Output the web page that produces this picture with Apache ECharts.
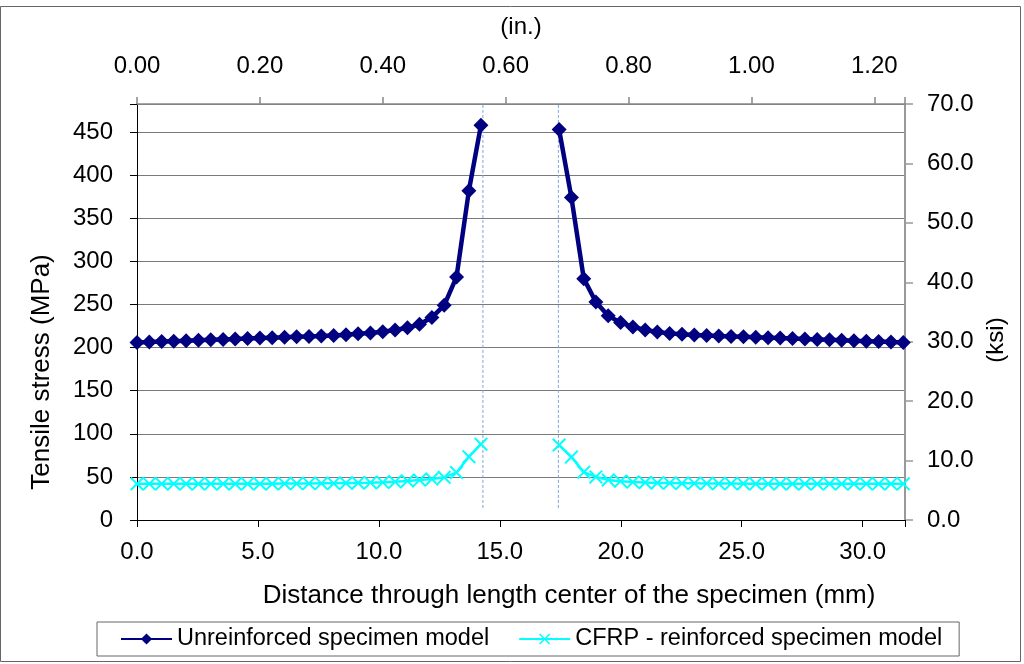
<!DOCTYPE html>
<html>
<head>
<meta charset="utf-8">
<script src="https://cdn.jsdelivr.net/npm/echarts@6/dist/echarts.min.js"></script>
<style>
html,body{margin:0;padding:0;background:#fff;}
#chart{width:1024px;height:664px;}
</style>
</head>
<body>
<div id="chart"></div>
<script>
// Distance (mm) of each computed point, left and right of the notch
const xLeft = [0.00,0.51,1.02,1.52,2.03,2.54,3.05,3.56,4.06,4.57,5.08,5.59,6.10,6.60,7.11,7.62,8.13,8.64,9.14,9.65,10.16,10.67,11.18,11.68,12.19,12.70,13.21,13.72,14.22];
const xRight = [17.45,17.96,18.47,18.97,19.48,19.99,20.50,21.01,21.51,22.02,22.53,23.04,23.55,24.05,24.56,25.07,25.58,26.09,26.59,27.10,27.61,28.12,28.63,29.13,29.64,30.15,30.66,31.17,31.68];

// Unreinforced specimen model (MPa)
const unreinforcedLeft = [206,206.5,207,207.5,208,208.5,209,209.5,210,210.5,211,211.5,212,212.5,213,213.5,214,215,216,217,218.5,220.5,223,227,235,249,282,382,458];
const unreinforcedRight = [453,374,280,253,237,229,224,220.5,218,216.5,215.5,214.5,214,213.5,213,212.5,212,211.5,211,210.5,210,209.5,209,208.5,208,207.5,207,206.5,206];

// CFRP - reinforced specimen model (MPa)
const cfrpLeft = [42,42,42,42,42,42,42,42,42,42,42,42,42.2,42.3,42.4,42.5,42.6,42.8,43,43.3,43.7,44.3,45.3,46.3,47.5,49.5,55,73.5,88];
const cfrpRight = [87,73,55.5,50,46.5,45,44,43.5,43,42.8,42.6,42.5,42.4,42.3,42.2,42.1,42,42,42,42,42,42,42,42,42,42,42,42,42];

// Thin reference lines at the notch edges
const refLineX = [14.3, 17.42];
const refLineY = [14, 482.6];

// Axis ranges / ticks
const mmMax = 31.75, mmStep = 5;
const inMax = 1.25, inStep = 0.2;
const mpaMax = 482.6, mpaStep = 50;
const ksiMax = 70, ksiStep = 10;

const FONT = 'Liberation Sans, Arial, sans-serif';

function pairs(xs, ys){ return xs.map((x,i)=>[x, ys[i]]); }
const unreinforcedData = pairs(xLeft, unreinforcedLeft).concat([[15.9,'-']], pairs(xRight, unreinforcedRight));
const cfrpData = pairs(xLeft, cfrpLeft).concat([[15.9,'-']], pairs(xRight, cfrpRight));

const xMarker = 'path://M0,1 L1,0 L5,4 L9,0 L10,1 L6,5 L10,9 L9,10 L5,6 L1,10 L0,9 L4,5 Z';

function isMult(v, step){ const r = v/step; return Math.abs(r-Math.round(r)) < 1e-6; }

const chart = echarts.init(document.getElementById('chart'), null, {renderer:'canvas'});
const refSeries = refLineX.map((x,i)=>({
  type:'line', name:'ref'+i, xAxisIndex:0, yAxisIndex:0,
  data: refLineY.map(y=>[x,y]), symbol:'none', silent:true,
  lineStyle:{color:'#7aa7dc', width:1, type:[3,2]}, z:1
}));

chart.setOption({
  backgroundColor:'#ffffff',
  animation:false,
  textStyle:{fontFamily:FONT},
  graphic:[{type:'rect', shape:{x:0.5,y:6.5,width:1020,height:655}, style:{fill:'none', stroke:'#666', lineWidth:1}, silent:true, z:-1}],
  grid:{left:137, right:119, top:104, bottom:144, containLabel:false},
  legend:{
    data:['Unreinforced specimen model','CFRP - reinforced specimen model'],
    left:97, top:622, padding:[5,17,5,23],
    borderColor:'#666', borderWidth:1,
    itemWidth:51, itemHeight:14, itemGap:29,
    textStyle:{fontSize:23.5, color:'#000', fontFamily:FONT}
  },
  xAxis:[{
    type:'value', position:'bottom', min:0, max:mmMax, interval:mmStep,
    name:'Distance through length center of the specimen (mm)', nameLocation:'middle', nameGap:63,
    nameTextStyle:{fontSize:26, color:'#000', fontFamily:FONT, padding:[0,0,0,96]},
    axisLine:{onZero:false, lineStyle:{color:'#000', width:1}},
    axisTick:{show:true, length:7, inside:false, lineStyle:{color:'#000'}},
    axisLabel:{fontSize:24, color:'#000', margin:20, fontFamily:FONT,
      formatter:v=> isMult(v,mmStep) ? v.toFixed(1) : ''},
    splitLine:{show:false}
  },{
    type:'value', position:'top', min:0, max:inMax, interval:inStep,
    name:'(in.)', nameLocation:'middle', nameGap:65,
    nameTextStyle:{fontSize:24, color:'#000', fontFamily:FONT},
    axisLine:{onZero:false, lineStyle:{color:'#888', width:1.5}},
    axisTick:{show:true, length:7, inside:false, lineStyle:{color:'#888', width:1.5}},
    axisLabel:{fontSize:24, color:'#000', margin:26, fontFamily:FONT,
      formatter:v=> isMult(v,inStep) ? v.toFixed(2) : ''},
    splitLine:{show:false}
  }],
  yAxis:[{
    type:'value', position:'left', min:0, max:mpaMax, interval:mpaStep,
    name:'Tensile stress (MPa)', nameLocation:'middle', nameRotate:90, nameGap:82,
    nameTextStyle:{fontSize:26, color:'#000', fontFamily:FONT, padding:[0,120,0,0]},
    axisLine:{show:true, onZero:false, lineStyle:{color:'#000', width:1}},
    axisTick:{show:true, length:7, inside:false, lineStyle:{color:'#000'}},
    axisLabel:{fontSize:24, color:'#000', margin:24, fontFamily:FONT,
      formatter:v=> isMult(v,mpaStep) ? String(v) : ''},
    splitLine:{show:true, lineStyle:{color:'#7a7a7a', width:1}}
  },{
    type:'value', position:'right', min:0, max:ksiMax, interval:ksiStep,
    name:'(ksi)', nameLocation:'middle', nameRotate:90, nameGap:78,
    nameTextStyle:{fontSize:24, color:'#000', fontFamily:FONT, padding:[0,56,0,0]},
    axisLine:{show:true, onZero:false, lineStyle:{color:'#999', width:2}},
    axisTick:{show:true, length:8, inside:false, lineStyle:{color:'#999', width:1.5}},
    axisLabel:{fontSize:24, color:'#000', margin:22, fontFamily:FONT,
      formatter:v=> v.toFixed(1)},
    splitLine:{show:false}
  }],
  series: refSeries.concat([{
    type:'line', name:'CFRP - reinforced specimen model', xAxisIndex:0, yAxisIndex:0,
    data:cfrpData, connectNulls:false,
    symbol:xMarker, symbolSize:14,
    itemStyle:{color:'#00ffff'},
    lineStyle:{color:'#00ffff', width:2.5}, z:3
  },{
    type:'line', name:'Unreinforced specimen model', xAxisIndex:0, yAxisIndex:0,
    data:unreinforcedData, connectNulls:false,
    symbol:'diamond', symbolSize:15,
    itemStyle:{color:'#000080'},
    lineStyle:{color:'#000080', width:4.5}, z:4
  }])
});
</script>
</body>
</html>
